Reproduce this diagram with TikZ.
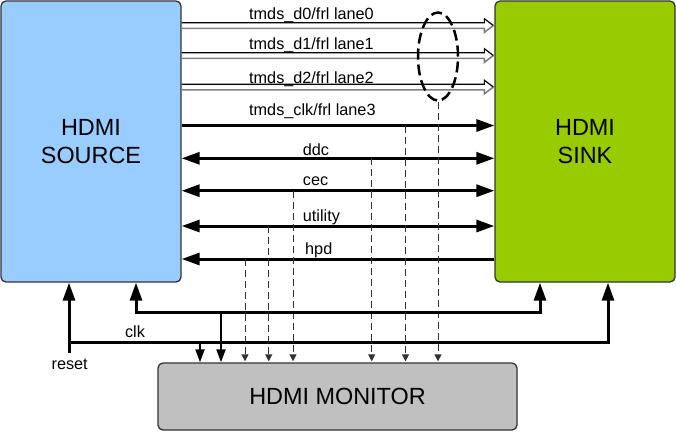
\documentclass[tikz,border=0pt]{standalone}
\usepackage{fontspec}
\setmainfont{Liberation Sans}
\usetikzlibrary{arrows.meta,calc,shapes.geometric}
\definecolor{srcblue}{HTML}{99CCFF}
\definecolor{snkgreen}{HTML}{99CC00}
\definecolor{mongray}{HTML}{C0C0C0}
\definecolor{edgecol}{HTML}{333333}
\begin{document}
\begin{tikzpicture}[x=1bp,y=-1bp,
 box/.style={draw=edgecol,line width=1.3bp,rounded corners=5bp,inner sep=0pt,align=center,font=\fontsize{23.5}{28}\selectfont},
 lbl/.style={font=\fontsize{16.3}{19}\selectfont,inner sep=0pt},
 bus/.style={line width=3bp,-{Triangle[length=18bp,width=12bp]}},
 bibus/.style={line width=3bp,{Triangle[length=18bp,width=12bp]}-{Triangle[length=18bp,width=12bp]}},
 tap/.style={line width=1bp,draw=black!80,dash pattern=on 7bp off 4bp,-{Triangle[length=7bp,width=7bp]},shorten >=1bp},
 monarrow/.style={line width=2bp,-{Triangle[length=13bp,width=9bp]}},
 laneT/.style={line width=1.2bp,draw=black},
 laneB/.style={line width=1.6bp,draw=black!50}
]
\useasboundingbox (0,0) rectangle (676,432);
\node[box,fill=srcblue,minimum width=180bp,minimum height=281bp] (src) at (91,141.5) {HDMI\\SOURCE};
\node[box,fill=snkgreen,minimum width=180bp,minimum height=281bp] (snk) at (585,141.5) {HDMI\\SINK};
\node[box,fill=mongray,minimum width=359bp,minimum height=67bp] (mon) at (337.5,396.5) {HDMI MONITOR};

% hollow lane arrows
\foreach \c in {25.5,55.5,87} {
  \draw[laneB] (src.east |- 0,{\c+2.8}) -- ($(snk.west |- 0,\c)+(-10,2.8)$) -- ($(snk.west |- 0,\c)+(-10,6.8)$) -- ($(snk.west |- 0,\c)+(-1,0)$);
  \draw[laneT] (src.east |- 0,{\c-2.8}) -- ($(snk.west |- 0,\c)+(-10,-2.8)$) -- ($(snk.west |- 0,\c)+(-10,-6.8)$) -- ($(snk.west |- 0,\c)+(-1,0)$);
}

% labels
\node[lbl,anchor=base west] (l0) at (249,19.3) {tmds\_d0/frl lane0};
\node[lbl,anchor=base west] (l1) at (249,49.3) {tmds\_d1/frl lane1};
\node[lbl,anchor=base west] (l2) at (249,83) {tmds\_d2/frl lane2};
\node[lbl,anchor=base west] (l3) at (249,115.7) {tmds\_clk/frl lane3};
\node[lbl,anchor=base west] (lddc) at (302.7,155) {ddc};
\node[lbl,anchor=base west] (lcec) at (302.7,185.3) {cec};
\node[lbl,anchor=base west] (lutil) at (302.7,221.7) {utility};
\node[lbl,anchor=base west] (lhpd) at (305,254.5) {hpd};

% buses
\draw[bus] (src.east |- 0,125.5) -- (snk.west |- 0,125.5);
\draw[bibus] (src.east |- 0,158.3) -- (snk.west |- 0,158.3);
\draw[bibus] (src.east |- 0,190.7) -- (snk.west |- 0,190.7);
\draw[bibus] (src.east |- 0,226) -- (snk.west |- 0,226);
\draw[bus] (snk.west |- 0,259) -- (src.east |- 0,259);

% ellipse group
\node[draw,ellipse,line width=2.5bp,dash pattern=on 11bp off 5bp,minimum width=40bp,minimum height=88bp,inner sep=0pt] (grp) at (438,56.5) {};

% taps to monitor
\coordinate (t1) at (245,259);
\coordinate (t2) at (268.7,226);
\coordinate (t3) at (293,190.7);
\coordinate (t4) at (371.7,158.3);
\coordinate (t5) at (405.5,125.5);
\foreach \t in {t1,t2,t3,t4,t5} \draw[tap] (\t) -- (\t |- mon.north);
\draw[tap] (grp.south) -- (grp.south |- mon.north);

% reset and clk
\coordinate (rst) at (69,353);
\coordinate (rj) at (69,342);
\coordinate (rk) at (608,342);
\coordinate (ck) at (136,312);
\coordinate (cj) at (540,312);
\draw[bus] (rst) -- (rst |- src.south);
\draw[line width=3bp,-{Triangle[length=18bp,width=12bp]}] (rj) -- (rk) -- (rk |- snk.south);
\draw[line width=3bp,{Triangle[length=18bp,width=12bp]}-{Triangle[length=18bp,width=12bp]}] (ck |- src.south) -- (ck) -- (cj) -- (cj |- snk.south);
\coordinate (mr) at (200,342);
\coordinate (mc) at (221,312);
\draw[monarrow] (mr) -- (mr |- mon.north);
\draw[monarrow] (mc) -- (mc |- mon.north);

\node[lbl,anchor=base] (clkl) at (135,337.3) {clk};
\node[lbl,anchor=base] (rstl) at (69.7,369.3) {reset};
\end{tikzpicture}
\end{document}
